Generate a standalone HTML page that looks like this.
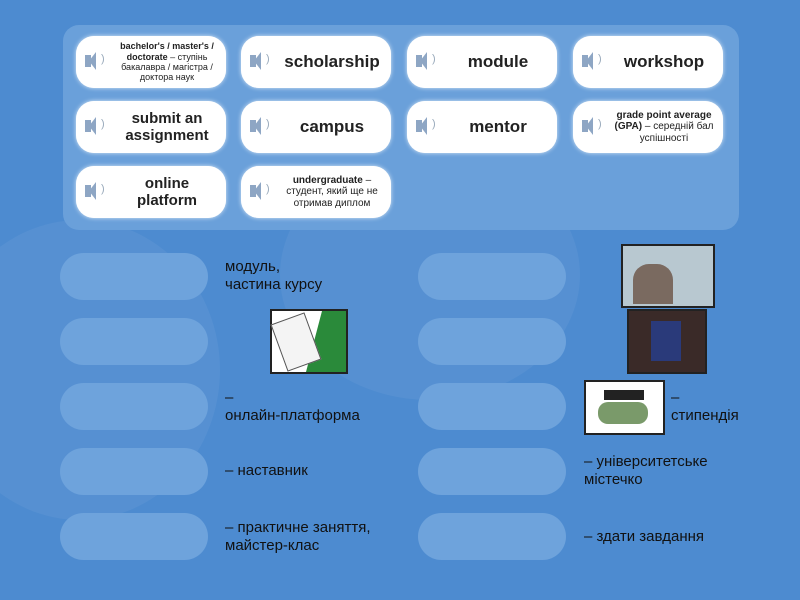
<!DOCTYPE html>
<html><head><meta charset="utf-8"><style>
body{margin:0;width:800px;height:600px;overflow:hidden;background:#4d8bd0;font-family:"Liberation Sans","DejaVu Sans",sans-serif;position:relative}
.bg{position:absolute;border-radius:50%;background:rgba(255,255,255,0.05)}
.panel{position:absolute;left:63px;top:25px;width:676px;height:205px;background:#6aa0da;border-radius:16px}
.card{position:absolute;width:150px;height:52px;background:#fff;border-radius:18px;box-shadow:0 0 6px 3px rgba(255,255,255,.8) inset,0 0 4px #dbe9f7;display:flex;align-items:center;justify-content:center;text-align:center;color:#222;font-weight:bold}
.card .t{margin-left:32px;width:100px;line-height:1.15}
.spk{position:absolute;left:9px;top:19px;width:6px;height:12px;background:#8ea6c4}
.spk:after{content:"";position:absolute;left:4px;top:-3px;border-right:7px solid #8ea6c4;border-top:9px solid transparent;border-bottom:9px solid transparent}
.spk:before{content:")";position:absolute;left:16px;top:-2px;color:#9ab;font-size:11px;font-weight:normal}
.big{font-size:17px}
.sm{font-size:9px;font-weight:normal}
.slot{position:absolute;width:148px;height:47px;background:#6ea3dc;border-radius:24px}
.lbl{position:absolute;color:#111;font-size:15px;line-height:18px}
.img{position:absolute;border:2px solid #222}
</style></head><body>
<div class="bg" style="left:280px;top:150px;width:300px;height:250px"></div>
<div class="bg" style="left:-60px;top:220px;width:280px;height:300px"></div>
<div class="panel"></div>
<div class="card" style="left:76px;top:36px"><div class="spk"></div><div class="t sm"><b>bachelor's / master's / doctorate</b> – ступінь бакалавра / магістра / доктора наук</div></div>
<div class="card" style="left:241px;top:36px"><div class="spk"></div><div class="t big">scholarship</div></div>
<div class="card" style="left:407px;top:36px"><div class="spk"></div><div class="t big">module</div></div>
<div class="card" style="left:573px;top:36px"><div class="spk"></div><div class="t big">workshop</div></div>
<div class="card" style="left:76px;top:101px"><div class="spk"></div><div class="t" style="font-size:15px">submit an assignment</div></div>
<div class="card" style="left:241px;top:101px"><div class="spk"></div><div class="t big">campus</div></div>
<div class="card" style="left:407px;top:101px"><div class="spk"></div><div class="t big">mentor</div></div>
<div class="card" style="left:573px;top:101px"><div class="spk"></div><div class="t sm" style="font-size:10px;width:110px"><b>grade point average (GPA)</b> – середній бал успішності</div></div>
<div class="card" style="left:76px;top:166px"><div class="spk"></div><div class="t" style="font-size:15px">online platform</div></div>
<div class="card" style="left:241px;top:166px"><div class="spk"></div><div class="t sm" style="font-size:10px;width:110px"><b>undergraduate</b> – студент, який ще не отримав диплом</div></div>

<div class="slot" style="left:60px;top:253px"></div>
<div class="slot" style="left:60px;top:318px"></div>
<div class="slot" style="left:60px;top:383px"></div>
<div class="slot" style="left:60px;top:448px"></div>
<div class="slot" style="left:60px;top:513px"></div>
<div class="slot" style="left:418px;top:253px"></div>
<div class="slot" style="left:418px;top:318px"></div>
<div class="slot" style="left:418px;top:383px"></div>
<div class="slot" style="left:418px;top:448px"></div>
<div class="slot" style="left:418px;top:513px"></div>

<div class="lbl" style="left:225px;top:258px">модуль,<br>частина курсу</div>
<div class="img" style="left:270px;top:309px;width:74px;height:61px;background:#fff"><div style="position:absolute;right:0;top:0;width:40px;height:61px;background:#2a8a3a;clip-path:polygon(40% 0,100% 0,100% 100%,0 100%)"></div><div style="position:absolute;left:6px;top:6px;width:34px;height:48px;background:#f4f4f4;border:1px solid #555;transform:rotate(-20deg)"></div></div>
<div class="lbl" style="left:225px;top:389px">–<br>онлайн-платформа</div>
<div class="lbl" style="left:225px;top:462px">– наставник</div>
<div class="lbl" style="left:225px;top:519px">– практичне заняття,<br>майстер-клас</div>

<div class="img" style="left:621px;top:244px;width:90px;height:60px;background:#b8c8d0"><div style="position:absolute;left:10px;top:18px;width:40px;height:40px;background:#7a6a60;border-radius:40% 40% 0 0"></div></div>
<div class="img" style="left:627px;top:309px;width:76px;height:61px;background:#3a2a28"><div style="position:absolute;left:22px;top:10px;width:30px;height:40px;background:#2a3a7a"></div></div>
<div class="img" style="left:584px;top:380px;width:77px;height:51px;background:#fff"><div style="position:absolute;left:12px;top:20px;width:50px;height:22px;background:#7a9a6a;border-radius:10px"></div><div style="position:absolute;left:18px;top:8px;width:40px;height:10px;background:#222"></div></div>
<div class="lbl" style="left:671px;top:389px">–<br>стипендія</div>
<div class="lbl" style="left:584px;top:453px">– університетське<br>містечко</div>
<div class="lbl" style="left:584px;top:528px">– здати завдання</div>
</body></html>
